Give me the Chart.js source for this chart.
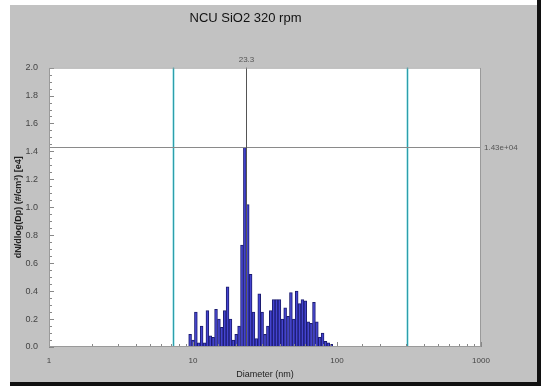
<!DOCTYPE html>
<html>
<head>
<meta charset="utf-8">
<script src="https://cdn.jsdelivr.net/npm/chart.js@4/dist/chart.umd.min.js"></script>
<style>
  html, body { margin: 0; padding: 0; background: #fff; }
  #wrap { width: 541px; height: 386px; }
</style>
</head>
<body>
<div id="wrap"><canvas id="psdChart" width="541" height="386"></canvas></div>
<script>
// bin centres (nm) and dN/dlog(Dp) values [e4]
const diameters = [9.55, 10.0, 10.47, 10.96, 11.48, 12.02, 12.59, 13.18, 13.80, 14.45,
  15.14, 15.85, 16.60, 17.38, 18.20, 19.05, 19.95, 20.89, 21.88, 22.91,
  23.99, 25.12, 26.30, 27.54, 28.84, 30.20, 31.62, 33.11, 34.67, 36.31,
  38.02, 39.81, 41.69, 43.65, 45.71, 47.86, 50.12, 52.48, 54.95, 57.54,
  60.26, 63.10, 66.07, 69.18, 72.44, 75.86, 79.43, 83.18, 87.10, 91.20];
const counts = [0.09, 0.05, 0.25, 0.03, 0.15, 0.03, 0.26, 0.08, 0.07, 0.27,
  0.20, 0.14, 0.26, 0.43, 0.20, 0.05, 0.09, 0.15, 0.73, 1.43,
  1.02, 0.52, 0.25, 0.06, 0.38, 0.25, 0.09, 0.15, 0.26, 0.34,
  0.34, 0.34, 0.20, 0.28, 0.22, 0.39, 0.20, 0.40, 0.31, 0.34,
  0.33, 0.18, 0.17, 0.32, 0.18, 0.07, 0.10, 0.04, 0.03, 0.02];
const xTickLabels = [1, 10, 100, 1000];
const limitLines = [7.3, 306];   // cyan range markers
const cursorX = 23.3;
const cursorY = 1.43;
const cursorYText = '1.43e+04';

// panel background, plot frame, cursors and inner tick marks
const panelPlugin = {
  id: 'panel',
  beforeDraw(chart) {
    const { ctx, chartArea: a } = chart;
    ctx.save();
    ctx.fillStyle = '#ffffff';
    ctx.fillRect(0, 0, 541, 386);
    ctx.fillStyle = '#c2c2c2';
    ctx.fillRect(10, 5, 527, 377);
    ctx.fillStyle = '#111';
    ctx.fillRect(537, 0, 4, 386);
    ctx.fillRect(10, 382, 531, 4);
    ctx.fillStyle = '#ffffff';
    ctx.fillRect(a.left, a.top, a.right - a.left, a.bottom - a.top);
    ctx.restore();
  },
  afterDatasetsDraw(chart) {
    const { ctx, chartArea: a, scales: { x, y } } = chart;
    ctx.save();
    // cyan limit lines
    limitLines.forEach(v => {
      const px = Math.round(x.getPixelForValue(v)) + 0.5;
      ctx.strokeStyle = 'rgba(150,220,225,0.6)';
      ctx.lineWidth = 3;
      ctx.beginPath(); ctx.moveTo(px, a.top); ctx.lineTo(px, a.bottom); ctx.stroke();
      ctx.strokeStyle = '#2c9fac';
      ctx.lineWidth = 1;
      ctx.beginPath(); ctx.moveTo(px, a.top); ctx.lineTo(px, a.bottom); ctx.stroke();
    });
    // cursor cross
    const cx = Math.round(x.getPixelForValue(cursorX)) + 0.5;
    const cy = Math.round(y.getPixelForValue(cursorY)) + 0.5;
    ctx.strokeStyle = '#8a8a8a';
    ctx.lineWidth = 1;
    ctx.beginPath(); ctx.moveTo(a.left, cy); ctx.lineTo(a.right, cy); ctx.stroke();
    ctx.strokeStyle = '#555';
    ctx.beginPath(); ctx.moveTo(cx, a.top); ctx.lineTo(cx, a.bottom); ctx.stroke();
    // inner minor ticks
    ctx.strokeStyle = '#888';
    x.ticks.forEach(t => {
      const px = Math.round(x.getPixelForValue(t.value)) + 0.5;
      const len = xTickLabels.includes(t.value) ? 5 : 3;
      ctx.beginPath(); ctx.moveTo(px, a.bottom); ctx.lineTo(px, a.bottom - len); ctx.stroke();
    });
    for (let k = 0; k <= 40; k++) {
      const py = Math.round(y.getPixelForValue(k * 0.05)) + 0.5;
      const len = k % 4 === 0 ? 5 : 3;
      ctx.beginPath(); ctx.moveTo(a.left, py); ctx.lineTo(a.left + len, py); ctx.stroke();
    }
    // frame
    ctx.strokeStyle = '#9a9a9a';
    ctx.strokeRect(a.left + 0.5, a.top + 0.5, a.right - a.left - 1, a.bottom - a.top - 1);
    // cursor labels
    ctx.fillStyle = '#555';
    ctx.font = '8px "Liberation Sans", Arial, sans-serif';
    ctx.textAlign = 'center';
    ctx.textBaseline = 'middle';
    ctx.fillText(String(cursorX), cx, a.top - 8);
    ctx.textAlign = 'left';
    ctx.fillText(cursorYText, a.right + 3, cy);
    ctx.restore();
  }
};

const ctx = document.getElementById('psdChart').getContext('2d');
new Chart(ctx, {
  type: 'bar',
  data: {
    labels: diameters,
    datasets: [{
      label: 'SiO2',
      data: counts,
      backgroundColor: '#4444d0',
      borderColor: '#1c1c70',
      borderWidth: 1,
      barPercentage: 1,
      categoryPercentage: 1
    }]
  },
  options: {
    responsive: false,
    animation: false,
    layout: { padding: { left: 10, right: 60, top: 0, bottom: 4 } },
    plugins: {
      legend: { display: false },
      tooltip: { enabled: false },
      title: {
        display: true,
        text: 'NCU SiO2 320 rpm',
        color: '#111',
        font: { family: '"Liberation Sans", Arial, sans-serif', size: 13, weight: 'normal' },
        padding: { top: 11, bottom: 41 }
      }
    },
    scales: {
      x: {
        type: 'logarithmic',
        min: 1,
        max: 1000,
        offset: false,
        grid: { display: false },
        border: { display: false },
        afterFit: s => { s.height = 35; },
        ticks: {
          autoSkip: false,
          maxRotation: 0,
          padding: 1,
          color: '#444',
          font: { family: '"Liberation Sans", Arial, sans-serif', size: 8 },
          callback: v => xTickLabels.includes(v) ? String(v) : ''
        },
        title: {
          display: true,
          text: 'Diameter (nm)',
          color: '#222',
          font: { family: '"Liberation Sans", Arial, sans-serif', size: 9 },
          padding: { top: 0, bottom: 2 }
        }
      },
      y: {
        min: 0,
        max: 2,
        grid: { display: false },
        border: { display: false },
        afterFit: s => { s.width = 39; },
        ticks: {
          stepSize: 0.2,
          padding: 3,
          color: '#444',
          font: { family: '"Liberation Sans", Arial, sans-serif', size: 9 },
          callback: v => v.toFixed(1)
        },
        title: {
          display: true,
          text: 'dN/dlog(Dp) (#/cm³) [e4]',
          color: '#222',
          font: { family: '"Liberation Sans", Arial, sans-serif', size: 9, weight: 'bold' },
          padding: { top: 3, bottom: 0 }
        }
      }
    }
  },
  plugins: [panelPlugin]
});
</script>
</body>
</html>
